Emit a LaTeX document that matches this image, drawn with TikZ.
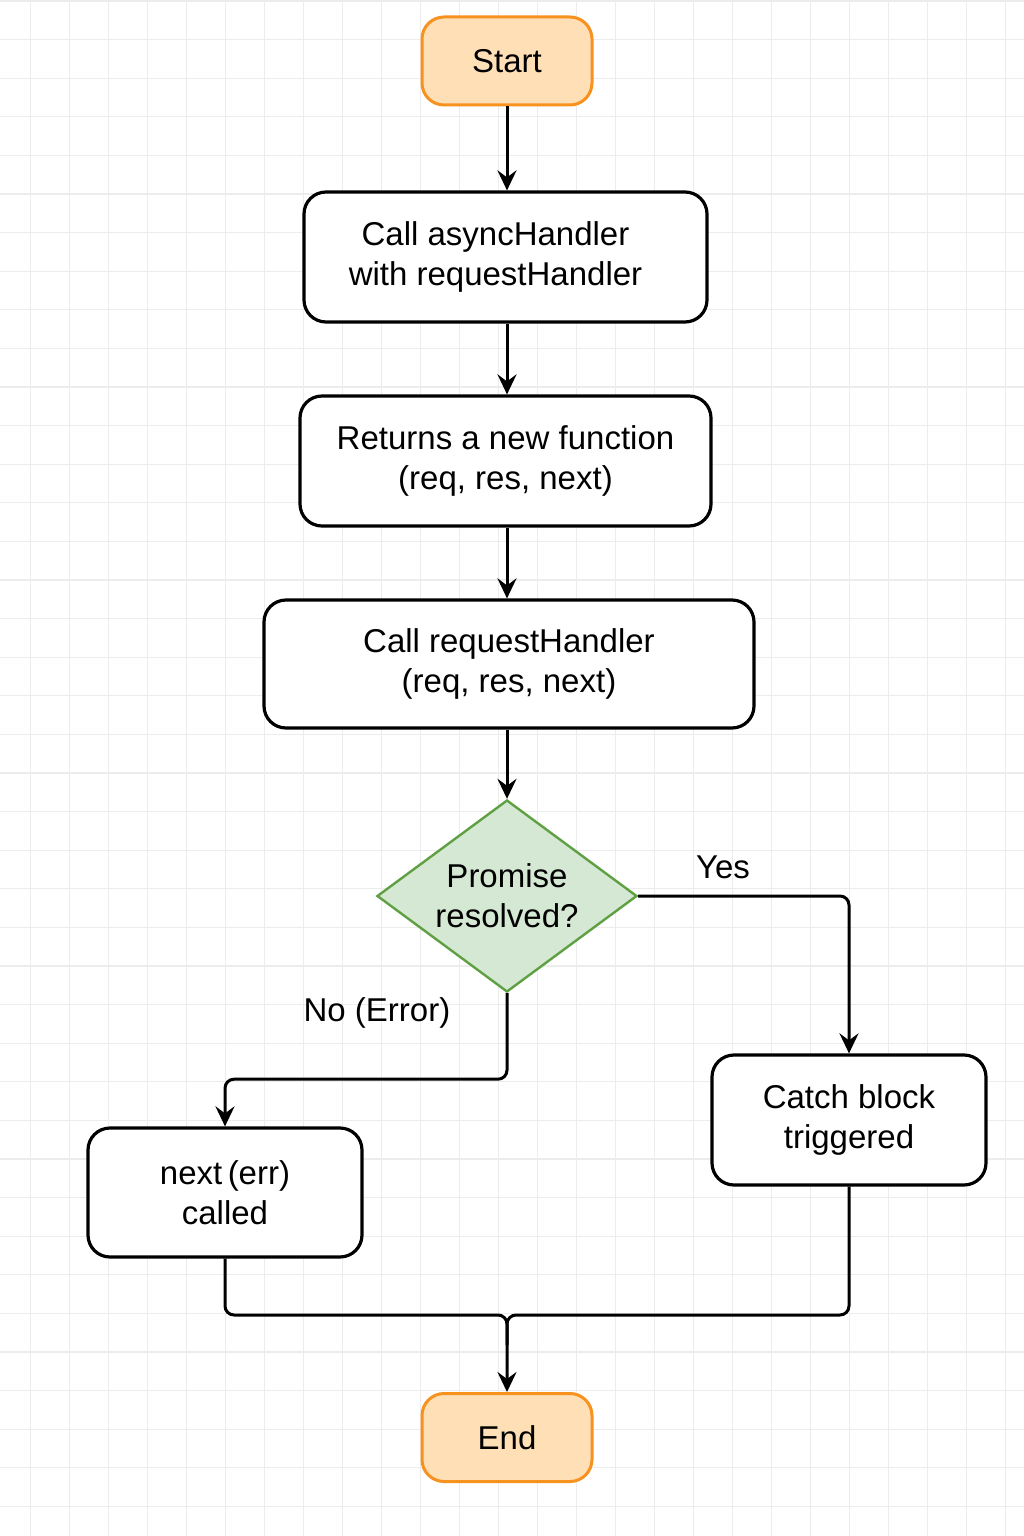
\documentclass[tikz,border=0pt]{standalone}
\usepackage{fontspec}
\setmainfont{Liberation Sans}
\usetikzlibrary{shapes.geometric,arrows.meta,calc}
\definecolor{startfill}{HTML}{FFDFB6}
\definecolor{startdraw}{HTML}{F7921E}
\definecolor{decfill}{HTML}{D5E8D4}
\definecolor{decdraw}{HTML}{5FA043}
\definecolor{gridline}{HTML}{ECECEC}
\begin{document}
\begin{tikzpicture}[x=1pt,y=-1pt,
  every node/.style={font=\fontsize{33}{40}\selectfont, text=black},
  term/.style={draw=startdraw, fill=startfill, line width=3pt, rounded corners=22pt, minimum width=170pt, minimum height=88pt, inner sep=0pt},
  proc/.style={draw=black, fill=white, line width=3.2pt, rounded corners=22pt, align=center, inner sep=0pt},
  dec/.style={diamond, shape aspect=1.354, draw=decdraw, fill=decfill, line width=2.4pt, align=center, inner sep=0pt, minimum width=260pt, minimum height=192pt},
  flow/.style={line width=3pt, -{Stealth[length=20pt,width=19pt,inset=7pt]}},
  seg/.style={line width=3pt, rounded corners=9pt},
  lbl/.style={inner sep=0pt},
  gminor/.style={draw=gridline, line width=1.1pt}
]
\fill[white] (0,0) rectangle (1024,1536);
\useasboundingbox (0,0) rectangle (1024,1536);
% grid
\foreach \i in {0,...,25} {
  \pgfmathsetmacro\xx{30.7+39*\i}
  \draw[gminor] (\xx,0) -- (\xx,1536);
}
\foreach \i in {0,...,39} {
  \pgfmathsetmacro\yy{1+38.6*\i}
  \draw[gminor] (0,\yy) -- (1024,\yy);
}
% nodes
\node[term] (start) at (507,61) {Start};
\node[proc, minimum width=403pt, minimum height=130pt] (b1) at (505.5,257) {Call asyncHandler\hspace*{20pt}\\with requestHandler\hspace*{20pt}};
\node[proc, minimum width=411pt, minimum height=130pt] (b2) at (505.5,461) {Returns a new function\\(req, res, next)};
\node[proc, minimum width=490pt, minimum height=128pt] (b3) at (509,664) {Call requestHandler\\(req, res, next)};
\node[dec] (dec) at (507,896) {Promise\\resolved?};
\node[proc, minimum width=274pt, minimum height=130pt] (catch) at (849,1120) {Catch block\\triggered};
\node[proc, minimum width=274pt, minimum height=129pt] (nerr) at (225,1192.5) {next\,(err)\\called};
\node[term] (end) at (507,1437.5) {End};
% labels
\node[lbl] (yes) at (723,867) {Yes};
\node[lbl] (no) at (377,1013) {No (Error)};
% connectors
\draw[flow] (start.south) -- (start.south |- b1.north);
\draw[flow] (b1.south -| start.south) -- (b2.north -| start.south);
\draw[flow] (b2.south -| start.south) -- (b3.north -| start.south);
\draw[flow] (b3.south -| start.south) -- (dec.north);
\draw[flow, rounded corners=9pt] (dec.east) -| (catch.north);
\draw[flow, rounded corners=9pt] (dec.south) -- ++(0,86) -| (nerr.north);
\coordinate (m) at (507,1315);
\coordinate (m2) at (507,1345);
\draw[seg] (catch.south) |- (m) -- (m2);
\draw[flow, rounded corners=9pt] (nerr.south) |- (m) -- (end.north);
\end{tikzpicture}
\end{document}
